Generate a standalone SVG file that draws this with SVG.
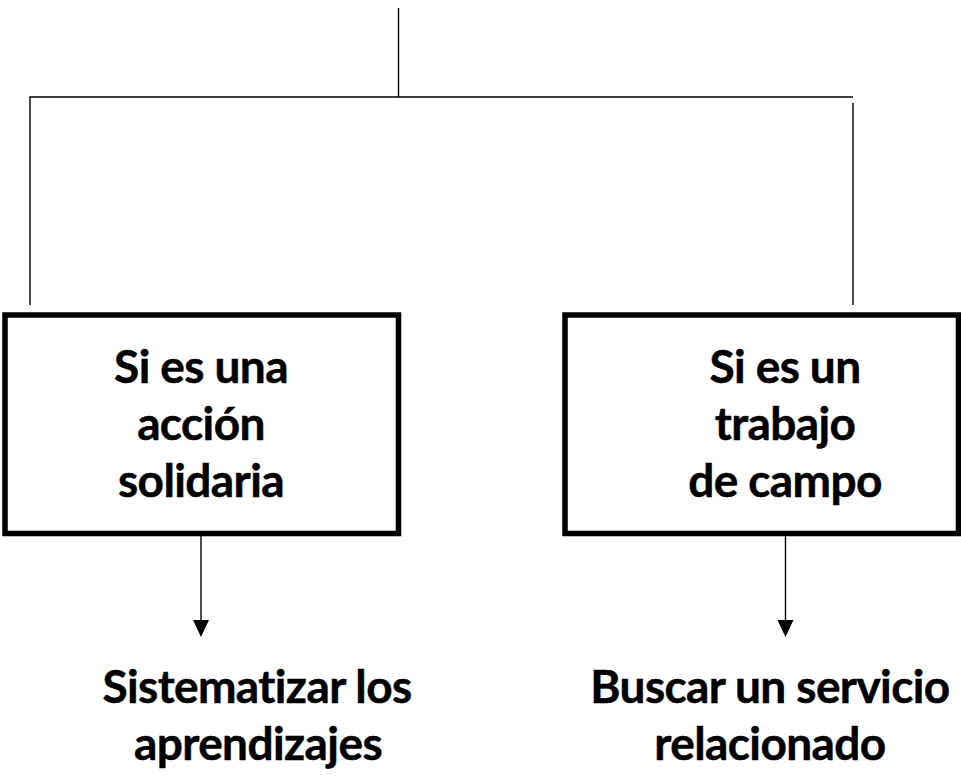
<svg xmlns="http://www.w3.org/2000/svg" width="961" height="778" viewBox="0 0 961 778">
<style>
.ln{stroke:#000;stroke-width:1.4;fill:none}
.box{fill:#fff;stroke:#000;stroke-width:5.5}
.t{font-family:Lato,"Open Sans","Liberation Sans",sans-serif;font-weight:bold;font-size:46px;fill:#000;stroke:#000;stroke-width:0.5;letter-spacing:-0.6px;text-anchor:middle}
</style>
<rect width="961" height="778" fill="#fff"/>
<g id="connectors">
<line class="ln" x1="398.5" y1="8" x2="398.5" y2="97"/>
<polyline class="ln" points="30,305 30,97 853,97"/>
<line class="ln" x1="853" y1="103" x2="853" y2="305"/>
<line class="ln" x1="201" y1="536" x2="201" y2="620"/>
<path d="M193,620L209,620L201,637z" fill="#000"/>
<line class="ln" x1="785.5" y1="536" x2="785.5" y2="620"/>
<path d="M777.5,620L793.5,620L785.5,637z" fill="#000"/>
</g>
<g id="node-accion">
<rect class="box" x="5" y="315" width="393.5" height="218.5"/>
<text class="t" x="201" y="383">Si es una</text>
<text class="t" x="201" y="440">acción</text>
<text class="t" x="201" y="497">solidaria</text>
</g>
<g id="node-trabajo">
<rect class="box" x="565" y="315" width="393.5" height="218.5"/>
<text class="t" x="785" y="383">Si es un</text>
<text class="t" x="785" y="440">trabajo</text>
<text class="t" x="785" y="497">de campo</text>
</g>
<g id="node-sistematizar">
<text class="t" x="257" y="703">Sistematizar los</text>
<text class="t" x="258" y="760">aprendizajes</text>
</g>
<g id="node-buscar">
<text class="t" x="770" y="703">Buscar un servicio</text>
<text class="t" x="770" y="760">relacionado</text>
</g>
</svg>
